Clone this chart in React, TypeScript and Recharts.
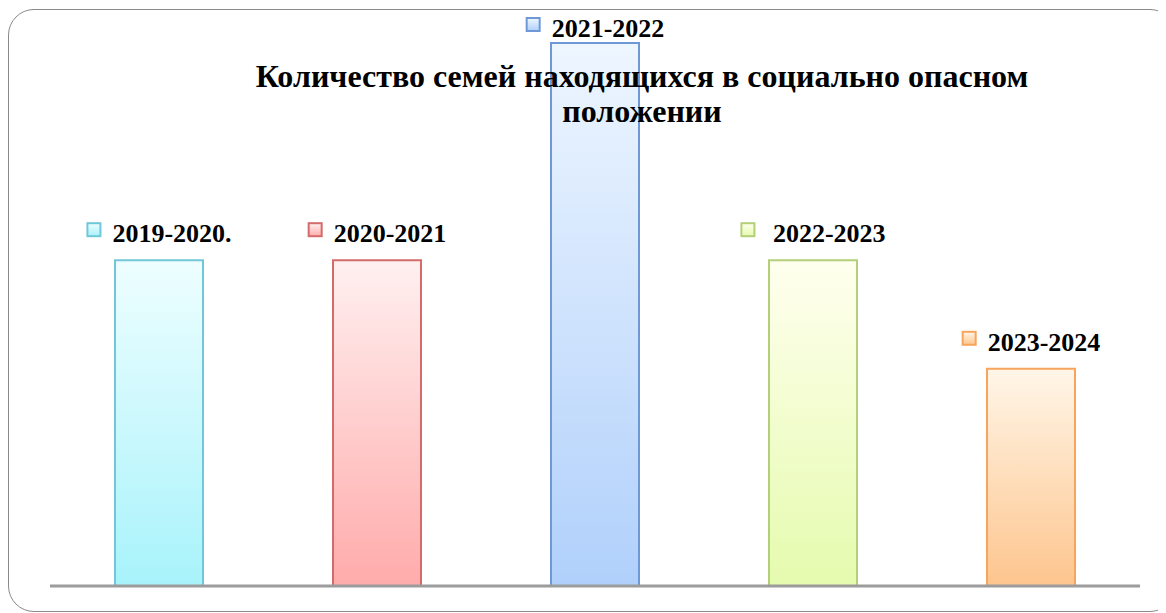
import React from "react";
import { BarChart, Bar, XAxis, YAxis, Cell, LabelList, ReferenceLine } from "recharts";

const categories = ["2019-2020.", "2020-2021", "2021-2022", " 2022-2023", "2023-2024"];
const values = [3, 3, 5, 3, 2];
const titleLines = ["Количество семей находящихся в социально опасном", "положении"];

const topColors = ["#EEFEFF", "#FFF0F0", "#EEF6FF", "#FFFFEE", "#FFF6E8"];
const bottomColors = ["#A8F3FB", "#FFABAB", "#B0D0FB", "#E5FBAE", "#FDC58E"];
const strokeColors = ["#71C7D8", "#D36B6B", "#6F99D6", "#B3CF7A", "#F7A55C"];

const data = categories.map((c, i) => ({ name: c, value: values[i] }));

const FONT = "'Liberation Serif', 'Times New Roman', serif";
const LABEL_SIZE = 26;

function estWidth(s: string, size: number) {
  let w = 0;
  for (const ch of s) {
    if (ch >= "0" && ch <= "9") w += 0.5;
    else if (ch === "-") w += 0.333;
    else if (ch === "." || ch === " ") w += 0.25;
    else w += 0.5;
  }
  return w * size;
}

const BarLabel = (props: any) => {
  const { x, y, width, index } = props;
  const text = categories[index];
  const cx = x + width / 2;
  const marker = 14;
  const gap = 12;
  const tw = estWidth(text, LABEL_SIZE);
  const total = marker + gap + tw;
  const left = cx - total / 2;
  const centerY = Math.max(y - 27, 20);
  return (
    <g>
      <rect
        x={left + 1}
        y={centerY - 10}
        width={marker - 1}
        height={marker - 1}
        fill={`url(#mk${index})`}
        stroke={strokeColors[index]}
        strokeWidth={2}
      />
      <text
        x={left + marker + gap}
        y={centerY + 9}
        fontFamily={FONT}
        fontWeight="bold"
        fontSize={LABEL_SIZE}
        fill="#000"
        style={{ whiteSpace: "pre" }}
      >
        {text}
      </text>
    </g>
  );
};

export default function App() {
  return (
    <div style={{ position: "relative", width: 1158, height: 605, overflow: "hidden" }}>
      <style>{`html,body{overflow:hidden;}`}</style>
      <div
        style={{
          position: "absolute",
          left: 0,
          top: 1,
          width: 1168,
          height: 603,
          border: "1.5px solid #8a8a8a",
          borderRadius: 26,
          boxSizing: "border-box",
        }}
      />
      <div style={{ position: "absolute", left: 0, top: 0 }}>
        <BarChart
          width={1158}
          height={605}
          data={data}
          margin={{ top: 35, right: 26, bottom: 27, left: 42 }}
          barSize={88}
        >
          <defs>
            {categories.map((_, i) => (
              <linearGradient key={i} id={`g${i}`} x1="0" y1="0" x2="0" y2="1">
                <stop offset="0%" stopColor={topColors[i]} />
                <stop offset="100%" stopColor={bottomColors[i]} />
              </linearGradient>
            ))}
            {categories.map((_, i) => (
              <linearGradient key={"m" + i} id={`mk${i}`} x1="0" y1="0" x2="0" y2="1">
                <stop offset="0%" stopColor={topColors[i]} />
                <stop offset="100%" stopColor={bottomColors[i]} />
              </linearGradient>
            ))}
          </defs>
          <XAxis dataKey="name" hide />
          <YAxis hide domain={[0, 5]} />
          <Bar dataKey="value" isAnimationActive={false} strokeWidth={2}>
            {data.map((_, i) => (
              <Cell key={i} fill={`url(#g${i})`} stroke={strokeColors[i]} />
            ))}
            <LabelList dataKey="value" content={BarLabel} />
          </Bar>
          <ReferenceLine y={0} stroke="#9C9C9C" strokeWidth={3} ifOverflow="visible" />
        </BarChart>
      </div>
      <div
        style={{
          position: "absolute",
          left: 134,
          top: 51,
          width: 1000,
          textAlign: "center",
          fontFamily: FONT,
          fontWeight: "bold",
          fontSize: 32,
          lineHeight: "35px",
          color: "#000",
          pointerEvents: "none",
        }}
      >
        {titleLines.map((l, i) => (
          <div key={i}>{l}</div>
        ))}
      </div>
    </div>
  );
}
